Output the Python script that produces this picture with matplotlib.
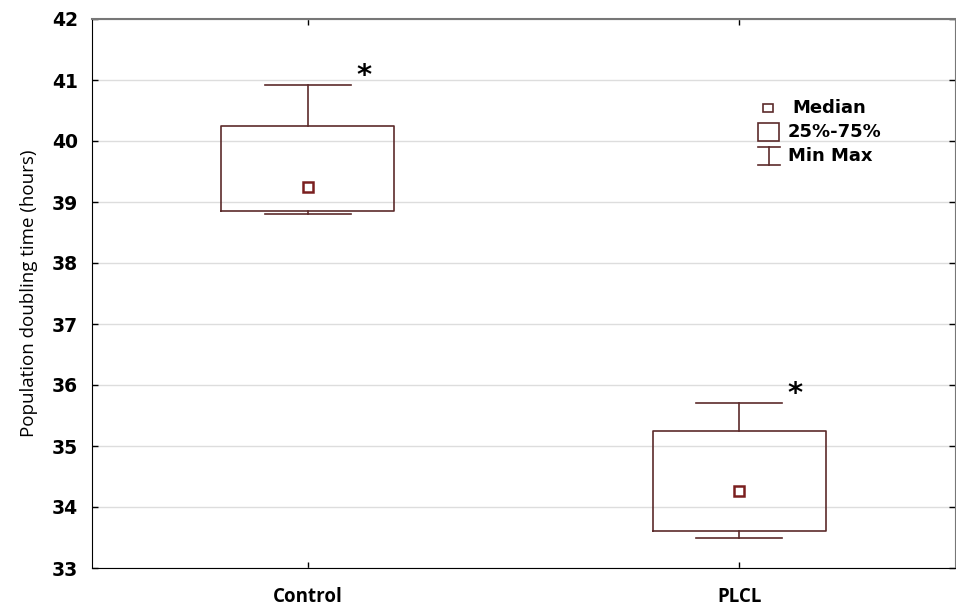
import matplotlib.pyplot as plt
from matplotlib.patches import Rectangle
from matplotlib.lines import Line2D

# Population doubling time per group (hours)
groups = ["Control", "PLCL"]
medians = [39.25, 34.26]
q1 = [38.85, 33.60]
q3 = [40.25, 35.25]
mins = [38.81, 33.50]
maxs = [40.91, 35.70]
yticks = [33, 34, 35, 36, 37, 38, 39, 40, 41, 42]

edge = "#5c2b2b"
positions = [1, 2]

fig = plt.figure(figsize=(9.56, 6.08), dpi=100)
ax = fig.add_axes([92 / 956, 1 - 568 / 608, (955 - 92) / 956, (568 - 19) / 608])

stats = [dict(med=m, q1=a, q3=b, whislo=lo, whishi=hi, label=g)
         for g, m, a, b, lo, hi in zip(groups, medians, q1, q3, mins, maxs)]
ax.bxp(stats, positions=positions, widths=0.40, showfliers=False,
       boxprops=dict(color=edge, linewidth=1.2),
       whiskerprops=dict(color=edge, linewidth=1.2),
       capprops=dict(color=edge, linewidth=1.2),
       medianprops=dict(visible=False), capwidths=0.20)

# median markers
ax.plot(positions, medians, linestyle="none", marker="s", markersize=7,
        markerfacecolor="white", markeredgecolor="#7a1f1f", markeredgewidth=1.8)

# significance stars beside the upper whiskers
for x, hi in zip(positions, maxs):
    ax.text(x + 0.13, hi + 0.16, "*", ha="center", va="center",
            fontsize=21, fontweight="bold", color="black")

ax.set_xlim(0.5, 2.5)
ax.set_ylim(33, 42)
ax.set_yticks(yticks)
ax.set_xticks(positions)
ax.set_xticklabels(groups, fontsize=13.5, fontweight="bold", family="Open Sans")
ax.set_yticklabels([str(t) for t in yticks], fontsize=13.5, fontweight="bold")
ax.yaxis.grid(True, color="#dddddd", linewidth=1)
ax.set_axisbelow(True)

ax.tick_params(direction="in", length=4, width=1, top=True, right=True,
               color="black")
ax.tick_params(axis="x", pad=14)
ax.tick_params(axis="y", pad=10)

ax.spines["left"].set_color("black")
ax.spines["bottom"].set_color("black")
ax.spines["top"].set_color("#777777")
ax.spines["top"].set_linewidth(1.5)
ax.spines["right"].set_color("#777777")

ax.set_ylabel("Population doubling time (hours)", fontsize=13.5,
              family="Open Sans", fontweight="medium", labelpad=10)

# legend drawn in axes coordinates
tr = ax.transAxes
def ax_xy(px, py):
    return ((px - 92) / (955 - 92), (568 - py) / (568 - 19))

x0, y0 = ax_xy(763, 112)
x1, y1 = ax_xy(773, 104)
ax.add_patch(Rectangle((x0, y0), x1 - x0, y1 - y0, transform=tr,
                       facecolor="white", edgecolor=edge, linewidth=1.2))
x0, y0 = ax_xy(758, 141)
x1, y1 = ax_xy(779, 123)
ax.add_patch(Rectangle((x0, y0), x1 - x0, y1 - y0, transform=tr,
                       facecolor="white", edgecolor=edge, linewidth=1.2))
xa, ya = ax_xy(758, 147)
xb, yb = ax_xy(780, 165)
xm = (xa + xb) / 2
ax.add_line(Line2D([xa, xb], [ya, ya], transform=tr, color=edge, lw=1.2))
ax.add_line(Line2D([xa, xb], [yb, yb], transform=tr, color=edge, lw=1.2))
ax.add_line(Line2D([xm, xm], [ya, yb], transform=tr, color=edge, lw=1.2))

for label, py, px in [("Median", 108, 792), ("25%-75%", 132, 788),
                      ("Min Max", 156, 788)]:
    tx, ty = ax_xy(px, py)
    ax.text(tx, ty, label, transform=tr, fontsize=13, fontweight="bold",
            va="center", ha="left")

fig.savefig("out.png", dpi=100)
